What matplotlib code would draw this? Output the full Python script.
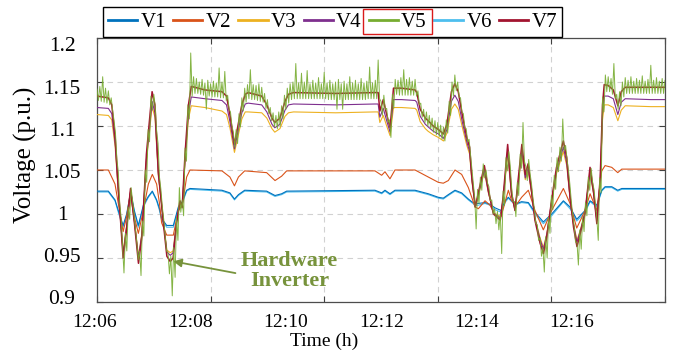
import numpy as np
import matplotlib
matplotlib.use("Agg")
import matplotlib.pyplot as plt
from matplotlib.patches import Rectangle

plt.rcParams['font.family'] = ['Liberation Serif', 'DejaVu Serif']

# time in minutes after 12:06
t_main = [0.00, 0.20, 0.26, 0.32, 0.375,
          0.46, 0.52, 0.59, 0.66, 0.73,
          0.79, 0.87, 0.97, 1.02, 1.08,
          1.17, 1.23, 1.29, 1.34, 1.40,
          1.46, 1.50, 1.55, 1.61, 1.66,
          1.90, 2.20, 2.28, 2.34, 2.42,
          2.55, 2.61, 2.66, 2.90, 2.99,
          3.08, 3.13, 3.22, 3.31, 3.37,
          3.46, 4.20, 4.89, 4.95, 4.98,
          5.04, 5.10, 5.16, 5.22, 5.36,
          5.60, 5.63, 5.69, 5.78, 5.83,
          5.92, 6.01, 6.10, 6.16, 6.24,
          6.30, 6.36, 6.43, 6.51, 6.56,
          6.60, 6.66, 6.71, 6.82, 6.89,
          6.98, 7.10, 7.15, 7.23, 7.30,
          7.36, 7.42, 7.48, 7.54, 7.59,
          7.65, 7.71, 7.80, 7.86, 7.92,
          8.01, 8.09, 8.21, 8.27, 8.33,
          8.39, 8.45, 8.51, 8.59, 8.68,
          8.74, 8.80, 8.86, 8.90, 8.93,
          9.00, 9.09, 9.17, 9.23, 9.30,
          9.75, 10.0]

v7 = [1.134, 1.132, 1.124, 1.087, 1.030,
      0.950, 0.982, 1.029, 0.989, 0.944,
      0.974, 1.068, 1.139, 1.124, 1.049,
      0.989, 0.952, 0.946, 0.950, 0.989,
      1.015, 1.008, 1.068, 1.124, 1.145,
      1.141, 1.139, 1.134, 1.113, 1.079,
      1.124, 1.136, 1.138, 1.134, 1.124,
      1.109, 1.104, 1.109, 1.128, 1.136,
      1.138, 1.137, 1.138, 1.138, 1.117,
      1.130, 1.113, 1.098, 1.143, 1.143,
      1.141, 1.138, 1.119, 1.109, 1.106,
      1.100, 1.096, 1.091, 1.102, 1.139,
      1.148, 1.139, 1.113, 1.087, 1.076,
      1.042, 1.008, 1.023, 1.055, 1.027,
      1.000, 0.993, 1.019, 1.079, 1.023,
      1.004, 1.042, 1.079, 1.045, 1.057,
      1.027, 0.993, 0.967, 0.955, 0.974,
      1.019, 1.053, 1.083, 1.064, 1.019,
      0.985, 0.963, 0.978, 1.000, 1.053,
      1.027, 0.989, 1.042, 1.124, 1.147,
      1.146, 1.141, 1.123, 1.139, 1.144,
      1.144, 1.144]

v4 = [1.121, 1.120, 1.114, 1.080, 1.026,
      0.955, 0.985, 1.025, 0.991, 0.950,
      0.977, 1.062, 1.128, 1.115, 1.045,
      0.991, 0.957, 0.953, 0.956, 0.991,
      1.013, 1.007, 1.062, 1.114, 1.133,
      1.131, 1.129, 1.124, 1.105, 1.074,
      1.115, 1.125, 1.126, 1.124, 1.116,
      1.102, 1.098, 1.102, 1.118, 1.124,
      1.125, 1.124, 1.125, 1.125, 1.110,
      1.120, 1.106, 1.093, 1.130, 1.130,
      1.129, 1.127, 1.111, 1.102, 1.099,
      1.094, 1.091, 1.086, 1.096, 1.128,
      1.135, 1.128, 1.105, 1.082, 1.071,
      1.039, 1.008, 1.021, 1.050, 1.025,
      1.001, 0.995, 1.017, 1.072, 1.021,
      1.004, 1.038, 1.072, 1.041, 1.052,
      1.025, 0.995, 0.971, 0.960, 0.977,
      1.017, 1.048, 1.076, 1.058, 1.017,
      0.988, 0.968, 0.981, 1.001, 1.048,
      1.025, 0.992, 1.038, 1.114, 1.134,
      1.134, 1.131, 1.113, 1.127, 1.131,
      1.130, 1.130]

v3 = [1.113, 1.112, 1.107, 1.076, 1.024,
      0.957, 0.986, 1.024, 0.992, 0.952,
      0.978, 1.060, 1.122, 1.110, 1.043,
      0.992, 0.959, 0.956, 0.958, 0.992,
      1.012, 1.007, 1.060, 1.108, 1.123,
      1.121, 1.117, 1.113, 1.098, 1.070,
      1.108, 1.116, 1.116, 1.115, 1.109,
      1.097, 1.093, 1.097, 1.111, 1.115,
      1.116, 1.115, 1.116, 1.116, 1.104,
      1.112, 1.100, 1.089, 1.121, 1.121,
      1.120, 1.118, 1.105, 1.097, 1.094,
      1.090, 1.087, 1.083, 1.092, 1.119,
      1.125, 1.119, 1.099, 1.078, 1.068,
      1.037, 1.008, 1.020, 1.048, 1.024,
      1.002, 0.996, 1.016, 1.068, 1.020,
      1.005, 1.036, 1.068, 1.039, 1.049,
      1.024, 0.996, 0.973, 0.962, 0.978,
      1.016, 1.046, 1.071, 1.055, 1.016,
      0.989, 0.970, 0.982, 1.002, 1.046,
      1.024, 0.993, 1.036, 1.107, 1.124,
      1.124, 1.121, 1.106, 1.118, 1.123,
      1.122, 1.122]

t_low = [0.0, 0.20, 0.317, 0.375, 0.46,
         0.522, 0.593, 0.657, 0.728, 0.816,
         0.904, 0.974, 1.05, 1.10, 1.138,
         1.227, 1.344, 1.432, 1.502, 1.578,
         1.637, 2.2, 2.34, 2.42, 2.49,
         2.6, 2.987, 3.134, 3.251, 3.339,
         4.894, 5.012, 5.07, 5.158, 5.246,
         5.599, 5.833, 6.009, 6.097, 6.185,
         6.303, 6.42, 6.538, 6.597, 6.655,
         6.714, 6.831, 6.919, 7.007, 7.113,
         7.183, 7.242, 7.3, 7.389, 7.476,
         7.594, 7.711, 7.858, 8.005, 8.211,
         8.328, 8.446, 8.593, 8.681, 8.798,
         8.886, 8.945, 9.063, 9.168, 9.239,
         10.0]

v2 = [1.050, 1.050, 1.034, 1.012, 0.980,
      0.997, 1.027, 0.997, 0.978, 1.004,
      1.034, 1.045, 1.034, 1.012, 0.990,
      0.976, 0.976, 1.004, 1.010, 1.042,
      1.050, 1.049, 1.042, 1.032, 1.042,
      1.049, 1.047, 1.038, 1.043, 1.049,
      1.049, 1.044, 1.048, 1.040, 1.050,
      1.050, 1.042, 1.036, 1.035, 1.038,
      1.050, 1.045, 1.030, 1.019, 1.008,
      1.006, 1.015, 1.010, 0.999, 0.997,
      1.013, 1.027, 1.015, 1.011, 1.019,
      1.027, 1.004, 0.982, 1.004, 1.029,
      1.012, 0.984, 1.004, 1.023, 1.004,
      1.049, 1.055, 1.053, 1.047, 1.051,
      1.051]

v1 = [1.026, 1.026, 1.016, 1.004, 0.987,
      1.000, 1.025, 1.004, 0.987, 1.010,
      1.020, 1.026, 1.016, 1.006, 0.995,
      0.987, 0.987, 1.008, 1.014, 1.027,
      1.029, 1.027, 1.024, 1.017, 1.022,
      1.027, 1.026, 1.021, 1.023, 1.026,
      1.027, 1.024, 1.027, 1.023, 1.027,
      1.027, 1.023, 1.019, 1.018, 1.022,
      1.027, 1.024, 1.017, 1.014, 1.012,
      1.012, 1.013, 1.011, 1.007, 1.004,
      1.015, 1.019, 1.015, 1.012, 1.014,
      1.013, 1.002, 0.991, 1.000, 1.015,
      1.008, 0.994, 1.004, 1.015, 1.010,
      1.027, 1.031, 1.031, 1.027, 1.029,
      1.029]

v6 = [1.025, 1.025, 1.015, 1.002, 0.985,
      0.998, 1.024, 1.002, 0.985, 1.008,
      1.019, 1.025, 1.015, 1.004, 0.993,
      0.985, 0.985, 1.006, 1.012, 1.026,
      1.028, 1.026, 1.023, 1.016, 1.021,
      1.026, 1.025, 1.020, 1.022, 1.025,
      1.026, 1.023, 1.026, 1.022, 1.026,
      1.026, 1.022, 1.018, 1.017, 1.021,
      1.026, 1.023, 1.016, 1.013, 1.010,
      1.010, 1.012, 1.010, 1.005, 1.002,
      1.013, 1.018, 1.014, 1.011, 1.013,
      1.012, 1.000, 0.989, 0.998, 1.014,
      1.006, 0.992, 1.002, 1.014, 1.008,
      1.026, 1.030, 1.030, 1.026, 1.028,
      1.028]

# hardware inverter (V5): upper and lower swing of the noisy trace, every 3 s
v5_high = [1.142, 1.145, 1.156, 1.143, 1.140, 1.132, 1.106, 1.062, 1.012, 0.962,
           0.978, 1.008, 1.030, 1.000, 0.968, 0.958, 0.992, 1.050, 1.096, 1.134,
           1.136, 1.094, 1.042, 1.008, 0.975, 0.956, 0.952, 0.962, 0.996, 1.030,
           1.016, 1.075, 1.124, 1.183, 1.156, 1.154, 1.150, 1.153, 1.149, 1.152,
           1.148, 1.151, 1.149, 1.166, 1.150, 1.162, 1.135, 1.116, 1.093, 1.096,
           1.114, 1.132, 1.143, 1.147, 1.164, 1.147, 1.146, 1.148, 1.144, 1.137,
           1.130, 1.121, 1.115, 1.112, 1.116, 1.123, 1.135, 1.143, 1.148, 1.150,
           1.171, 1.149, 1.160, 1.150, 1.163, 1.148, 1.152, 1.149, 1.155, 1.148,
           1.161, 1.149, 1.152, 1.148, 1.150, 1.153, 1.148, 1.151, 1.148, 1.156,
           1.149, 1.152, 1.148, 1.154, 1.149, 1.151, 1.167, 1.149, 1.152, 1.175,
           1.128, 1.135, 1.120, 1.107, 1.136, 1.153, 1.152, 1.155, 1.164, 1.153,
           1.155, 1.151, 1.153, 1.140, 1.126, 1.119, 1.116, 1.112, 1.109, 1.106,
           1.104, 1.101, 1.099, 1.107, 1.128, 1.150, 1.158, 1.150, 1.132, 1.114,
           1.097, 1.085, 1.050, 1.018, 1.028, 1.042, 1.057, 1.050, 1.031, 1.016,
           1.006, 1.003, 1.000, 1.026, 1.064, 1.071, 1.030, 1.014, 1.036, 1.068,
           1.104, 1.054, 1.062, 1.034, 1.006, 0.988, 0.973, 0.962, 0.974, 0.996,
           1.021, 1.044, 1.064, 1.076, 1.108, 1.078, 1.050, 1.015, 0.987, 0.968,
           0.982, 0.996, 1.013, 1.042, 1.052, 1.028, 0.995, 1.041, 1.133, 1.158,
           1.156, 1.154, 1.171, 1.136, 1.139, 1.150, 1.155, 1.152, 1.156, 1.151,
           1.154, 1.152, 1.157, 1.151, 1.153, 1.169, 1.152, 1.155, 1.151, 1.154,
           1.152]
v5_low = [1.129, 1.128, 1.127, 1.126, 1.124, 1.118, 1.092, 1.048, 0.996, 0.933,
          0.958, 0.994, 1.016, 0.985, 0.948, 0.930, 0.975, 1.036, 1.082, 1.118,
          1.122, 1.080, 1.028, 0.994, 0.958, 0.932, 0.907, 0.928, 0.970, 1.002,
          0.998, 1.060, 1.108, 1.134, 1.137, 1.137, 1.136, 1.135, 1.119, 1.134,
          1.133, 1.133, 1.133, 1.132, 1.132, 1.129, 1.119, 1.100, 1.076, 1.080,
          1.099, 1.117, 1.127, 1.131, 1.130, 1.130, 1.129, 1.128, 1.127, 1.120,
          1.114, 1.106, 1.099, 1.097, 1.100, 1.108, 1.119, 1.126, 1.130, 1.131,
          1.131, 1.131, 1.131, 1.131, 1.131, 1.131, 1.131, 1.131, 1.131, 1.131,
          1.131, 1.130, 1.130, 1.130, 1.119, 1.130, 1.119, 1.130, 1.130, 1.130,
          1.130, 1.130, 1.130, 1.130, 1.130, 1.131, 1.131, 1.131, 1.131, 1.131,
          1.112, 1.119, 1.104, 1.087, 1.120, 1.136, 1.135, 1.135, 1.135, 1.135,
          1.135, 1.135, 1.134, 1.124, 1.110, 1.104, 1.100, 1.097, 1.093, 1.090,
          1.088, 1.085, 1.083, 1.092, 1.112, 1.134, 1.140, 1.133, 1.116, 1.098,
          1.082, 1.068, 1.033, 0.983, 1.012, 1.027, 1.041, 1.035, 1.015, 1.000,
          0.989, 0.982, 0.955, 1.010, 1.049, 1.055, 1.014, 0.997, 1.021, 1.052,
          1.060, 1.038, 1.046, 1.018, 0.989, 0.970, 0.952, 0.934, 0.950, 0.978,
          1.005, 1.028, 1.048, 1.060, 1.072, 1.062, 1.034, 0.998, 0.968, 0.942,
          0.960, 0.980, 0.998, 1.027, 1.036, 1.012, 0.970, 1.024, 1.116, 1.139,
          1.139, 1.136, 1.131, 1.119, 1.123, 1.133, 1.137, 1.137, 1.137, 1.137,
          1.137, 1.137, 1.137, 1.137, 1.137, 1.137, 1.137, 1.137, 1.137, 1.137,
          1.137]
t5_high = np.arange(len(v5_high)) * 0.05
t5_low = t5_high + 0.025
t5 = np.column_stack([t5_high, t5_low]).ravel()
v5 = np.column_stack([v5_high, v5_low]).ravel()

x_ticks = [0, 2, 4, 6, 8, 10]
x_labels = ['12:06', '12:08', '12:10', '12:12', '12:14', '12:16']
y_ticks = [0.9, 0.95, 1.0, 1.05, 1.1, 1.15, 1.2]
y_labels = ['0.9', '0.95', '1', '1.05', '1.1', '1.15', '1.2']

c1 = (0.000, 0.447, 0.741)
c2 = (0.850, 0.325, 0.098)
c3 = (0.929, 0.694, 0.125)
c4 = (0.494, 0.184, 0.556)
c5 = (0.466, 0.674, 0.188)
c6 = (0.301, 0.745, 0.933)
c7 = (0.635, 0.078, 0.184)
note_green = '#77933c'

W, H = 700, 358
fig = plt.figure(figsize=(W / 100, H / 100), dpi=100)
ax = fig.add_axes([97 / W, 1 - 302 / H, 568 / W, 264 / H])

l6, = ax.plot(t_low, v6, color=c6, lw=0.8, zorder=2)
l1, = ax.plot(t_low, v1, color=c1, lw=0.8, zorder=3)
l2, = ax.plot(t_low, v2, color=c2, lw=0.8, zorder=3)
l3, = ax.plot(t_main, v3, color=c3, lw=0.8, zorder=3)
l4, = ax.plot(t_main, v4, color=c4, lw=0.8, zorder=3)
l7, = ax.plot(t_main, v7, color=c7, lw=1.1, zorder=4)
l5, = ax.plot(t5, v5, color=c5, lw=0.7, alpha=0.9, zorder=5)

ax.set_xlim(0, 10)
ax.set_ylim(0.9, 1.2)
ax.set_xticks(x_ticks)
ax.set_yticks(y_ticks)
ax.grid(True, ls=(0, (5, 4)), color='0.82', lw=0.8)
ax.set_axisbelow(True)
ax.tick_params(direction='in', top=True, right=True, length=4, width=0.8,
               color='0.25', labelbottom=False, labelleft=False)
for s in ax.spines.values():
    s.set_color('0.3')
    s.set_linewidth(0.9)

# tick labels sit where they appear in the original export
for i, lab in enumerate(x_labels):
    fig.text((95 + i * 95.4) / W, 1 - 322.5 / H, lab, ha='center', va='center', fontsize=14)
for i, lab in enumerate(y_labels):
    fig.text(62 / W, 1 - (300 - i * 42.2) / H, lab, ha='center', va='center', fontsize=15.5)
fig.text(324.5 / W, 1 - 341 / H, 'Time (h)', ha='center', va='center', fontsize=14)
fig.text(25 / W, 1 - 155 / H, 'Voltage (p.u.)', ha='center', va='center',
         rotation=90, fontsize=18)

ax.annotate('Hardware\nInverter', xy=(1.343, 0.9462), xytext=(3.39, 0.9353),
            ha='center', va='center', fontsize=16, fontweight='bold',
            color=note_green, linespacing=1.0,
            arrowprops=dict(arrowstyle='-|>', color=note_green, lw=1.3,
                            mutation_scale=12, shrinkA=2, shrinkB=0,
                            relpos=(0.0, 0.42)),
            zorder=6)

leg = fig.legend([l1, l2, l3, l4, l5, l6, l7],
                 ['V1', 'V2', 'V3', 'V4', 'V5', 'V6', 'V7'],
                 loc='upper left', bbox_to_anchor=(103 / W, 1 - 7 / H),
                 ncol=7, fontsize=15, frameon=True, fancybox=False,
                 edgecolor='black', framealpha=1, borderpad=0.25,
                 handlelength=1.4, handletextpad=0.15, columnspacing=0.35,
                 borderaxespad=0)
leg.get_frame().set_linewidth(1.0)
for h in leg.get_lines():
    h.set_linewidth(2.0)
    h.set_alpha(1.0)

# red box around the V5 entry
fig.canvas.draw()
r = fig.canvas.get_renderer()
b_line = leg.get_lines()[4].get_window_extent(r)
b_text = leg.get_texts()[4].get_window_extent(r)
b_frame = leg.get_frame().get_window_extent(r)
x0 = b_line.x0 - 6
x1 = b_text.x1 + 5
y0 = b_frame.y0 + 3
y1 = b_frame.y1 - 2
inv = fig.transFigure.inverted()
(fx0, fy0), (fx1, fy1) = inv.transform([(x0, y0), (x1, y1)])
fig.add_artist(Rectangle((fx0, fy0), fx1 - fx0, fy1 - fy0, transform=fig.transFigure,
                         fill=False, edgecolor=(0.85, 0.1, 0.1), lw=1.0, zorder=10))

fig.savefig('out.png', dpi=100)
